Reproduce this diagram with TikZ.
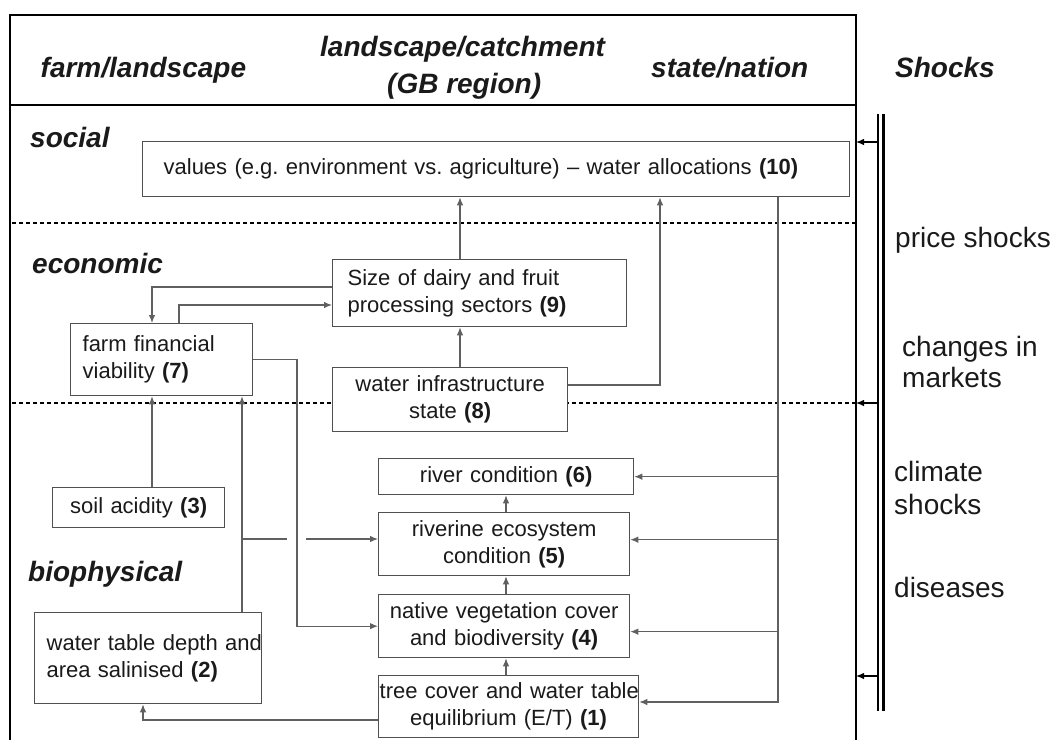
\documentclass[tikz,border=0pt]{standalone}
\usepackage{fontspec}
\setmainfont{Liberation Sans}
\usetikzlibrary{arrows.meta,calc}
\definecolor{boxc}{HTML}{505050}
\definecolor{linec}{HTML}{606060}
\definecolor{txtc}{HTML}{1A1A1A}
\frenchspacing
\begin{document}
\begin{tikzpicture}[x=1pt,y=-1pt,
  box/.style={draw=boxc, line width=1.3pt, fill=white, text=txtc,
    font=\fontsize{22}{27}\selectfont\frenchspacing, inner ysep=0pt, anchor=north west},
  arr/.style={draw=linec, line width=1.1pt, -{Latex[length=8pt,width=6.5pt]}},
  ln/.style={draw=linec, line width=1.1pt},
  hdr/.style={font=\fontsize{28}{30}\selectfont\bfseries\itshape, text=txtc, inner sep=0pt, anchor=base west},
  shk/.style={font=\fontsize{28}{30}\selectfont, text=txtc, inner sep=0pt, anchor=base west},
  sep/.style={draw=black, line width=1.2pt, dash pattern=on 4pt off 3pt}]
\useasboundingbox (0,0) rectangle (1058,740);
% frame
\draw[line width=2.5pt] (10,740) -- (10,15) -- (856,15) -- (856,740);
\draw[line width=1.4pt] (10,105) -- (856,105);
\draw[sep] (12,223) -- (856,223);
\draw[sep] (12,403) -- (856,403);
% shocks double line
\draw[line width=1.8pt] (878,114) -- (878,711);
\draw[line width=2.5pt] (883.5,114) -- (883.5,711);
% header texts
\node[hdr] (h1) at (40.5,77) {farm/landscape};
\node[hdr] (h2) at (320,56) {landscape/catchment};
\node[hdr] (h3) at (387,93) {(GB region)};
\node[hdr] (h4) at (651,77) {state/nation};
\node[hdr] (h5) at (895,77) {Shocks};
% row labels
\node[hdr] (l1) at (30,147) {social};
\node[hdr] (l2) at (32,273) {economic};
\node[hdr] (l3) at (28,581) {biophysical};
% shock labels
\node[shk] (k1) at (895,247) {price shocks};
\node[shk] (k2) at (902,356) {changes in};
\node[shk] (k3) at (902,387) {markets};
\node[shk] (k4) at (894,481) {climate};
\node[shk] (k5) at (894,514) {shocks};
\node[shk] (k6) at (894,597) {diseases};
% boxes
\node[box, inner xsep=21pt, text width=665pt, minimum height=55pt, align=left] (b10) at (142,141)
  {\mbox{values (e.g. environment vs. agriculture) -- water allocations \textbf{(10)}}};
\node[box, inner xsep=15pt, text width=264pt, minimum height=67pt, align=left] (b9) at (332,259)
  {Size of dairy and fruit\\processing sectors \textbf{(9)}};
\node[box, inner xsep=12pt, text width=158pt, minimum height=72pt, align=left] (b7) at (70,323)
  {farm financial\\viability \textbf{(7)}};
\node[box, inner xsep=5pt, text width=225pt, minimum height=64pt, align=center] (b8) at (332,367)
  {water infrastructure\\state \textbf{(8)}};
\node[box, inner xsep=4pt, text width=247pt, minimum height=36pt, align=center] (b6) at (378,458)
  {river condition \textbf{(6)}};
\node[box, inner xsep=4pt, text width=243pt, minimum height=63pt, align=center] (b5) at (378,512)
  {riverine ecosystem\\condition \textbf{(5)}};
\node[box, inner xsep=4pt, text width=243pt, minimum height=63pt, align=center] (b4) at (378,594)
  {native vegetation cover\\and biodiversity \textbf{(4)}};
\node[box, inner xsep=1pt, text width=258pt, minimum height=62pt, align=center] (b1) at (378,675)
  {\mbox{tree cover and water table}\\equilibrium (E/T) \textbf{(1)}};
\node[box, inner xsep=5pt, text width=162pt, minimum height=40pt, align=center] (b3) at (52,487)
  {soil acidity \textbf{(3)}};
\node[box, inner xsep=12pt, text width=203pt, minimum height=91pt, align=left] (b2) at (34,612)
  {\mbox{water table depth and}\\area salinised \textbf{(2)}};
% helper coordinates
\coordinate (cA) at (460,0);
\coordinate (cB) at (660,385);
\coordinate (cC) at (778,702);
\coordinate (cD) at (152,287);
\coordinate (cE) at (179,305);
\coordinate (cF) at (242,539);
\coordinate (cG) at (297,0);
\coordinate (cH) at (143,720);
\coordinate (cI) at (506,0);
\coordinate (fr) at (856,0);
\coordinate (s1) at (877,142);
\coordinate (s2) at (877,403);
\coordinate (s3) at (877,676);
% connectors
\draw[arr] (b9.north -| cA) -- (b10.south -| cA);
\draw[arr] (b8.north -| cA) -- (b9.south -| cA);
\draw[arr] (b8.east |- cB) -| (b10.south -| cB);
\draw[arr] (b10.south -| cC) |- (b1.east |- cC);
\draw[arr] (cC |- b6.east) -- (b6.east);
\draw[arr] ([yshift=4.5pt]cC |- b5.east) -- ([yshift=4.5pt]b5.east);
\draw[arr] ([yshift=-5.5pt]cC |- b4.east) -- ([yshift=-5.5pt]b4.east);
\draw[arr] (b9.west |- cD) -| (b7.north -| cD);
\draw[arr] (b7.north -| cE) |- (b9.west |- cE);
\draw[arr] (b7.east) -| (cG |- b4.west) -- (b4.west);
\draw[arr] (b3.north -| cD) -- (b7.south -| cD);
\draw[arr] (b2.north -| cF) -- (b7.south -| cF);
\draw[ln] (cF) -- ([xshift=-10pt]cF -| cG);
\draw[arr] ([xshift=9pt]cF -| cG) -- (b5.west |- cF);
\draw[arr] (b1.west |- cH) -| (b2.south -| cH);
\draw[arr] (b1.north -| cI) -- (b4.south -| cI);
\draw[arr] (b4.north -| cI) -- (b5.south -| cI);
\draw[arr] (b5.north -| cI) -- (b6.south -| cI);
\draw[arr, draw=black] (s1) -- (s1 -| fr);
\draw[arr, draw=black] (s2) -- (s2 -| fr);
\draw[arr, draw=black] (s3) -- (s3 -| fr);
\end{tikzpicture}
\end{document}
